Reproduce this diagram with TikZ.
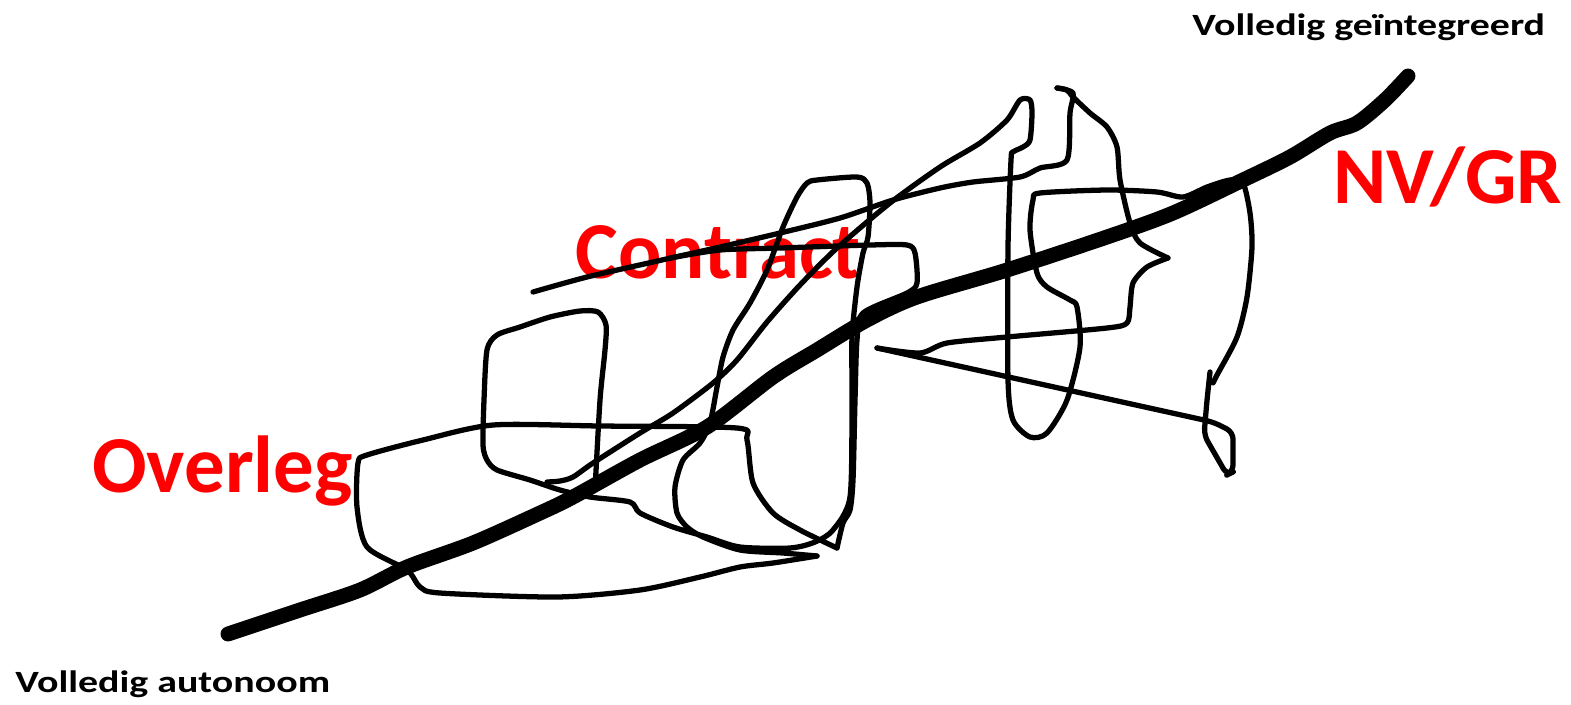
\documentclass[tikz,border=0pt]{standalone}
\usepackage{fontspec}
\setmainfont{Carlito}
\begin{document}
\begin{tikzpicture}[x=0.02cm, y=-0.02cm,
	scribble/.style={line width=3pt, line cap=round, line join=round},
	backbone/.style={line width=8.5pt, line cap=round, line join=round},
	pole/.style={font=\bfseries\fontsize{17.6}{20}\selectfont, inner sep=0pt, anchor=base west},
	zone/.style={font=\bfseries\fontsize{46}{50}\selectfont, text=red, inner sep=0pt, anchor=base west}]
	
	% Page frame (pixel units, y downwards)
	\useasboundingbox (0,0) rectangle (1571,704);
	
	% -----------------------------
	% Labels
	% -----------------------------
	\node[zone] (overleg) at (92,492) {Overleg};
	\node[zone] (contract) at (575,278) {Contract};
	\node[zone] (nvgr) at (1333,203) {NV/GR};
	\node[pole] (integr) at (1192,35) {\scalebox{1.29}[1]{Volledig geïntegreerd}};
	\node[pole] (auton) at (15,692) {\scalebox{1.29}[1]{Volledig autonoom}};
	
	% -----------------------------
	% Scribble: square, Overleg loop, Contract box
	% -----------------------------
	\draw[scribble] plot[smooth, tension=0.45] coordinates {
		(595,490) (600,400) (605,350) (606,325) (598,312) (580,311) (550,317)
		(520,327) (497,335) (487,350) (484,400) (483,445) (487,460) (497,470)
		(530,480) (560,490) (590,497) (630,502) (640,513) (673,527) (707,537)
		(740,547) (790,548) (815,542) (833,530) (850,497) (852,400) (852,337)
		(857,287) (863,253) (868,237) (870,203) (867,183) (857,177) (817,180)
		(807,183) (797,197) (783,227) (767,270) (750,303) (733,330) (723,357)
		(717,387) (710,423) (700,443) (683,460) (675,487) (677,513) (687,527)
		(703,537) (740,550) (783,553) (817,556)};
	\draw[scribble] plot[smooth, tension=0.45] coordinates {
		(817,556) (773,563) (740,567) (700,577) (640,590) (557,597) (440,593)
		(420,587) (407,570) (367,547) (357,507) (358,463) (367,455) (423,440)
		(493,425) (600,426) (737,428) (747,440) (753,483) (773,513) (800,530)
		(837,548)};
	\draw[scribble] plot[smooth, tension=0.45] coordinates {
		(837,548) (843,523) (850,510) (853,480) (855,400) (857,340) (863,313)
		(907,293) (917,283) (915,253) (907,245) (870,245) (780,248) (720,250)
		(670,258)};
	
	% -----------------------------
	% Scribble: right part
	% -----------------------------
	\draw[scribble] plot[smooth, tension=0.45] coordinates {
		(547,482) (560,481) (573,477) (593,463) (640,433) (673,413) (713,383)
		(737,360) (767,322) (800,285) (837,248) (890,203) (940,167) (980,143)
		(1007,120) (1020,100) (1030,100) (1032,113) (1030,140) (1023,147)
		(1013,152) (1011,160) (1008,247) (1008,380) (1013,420) (1030,437)
		(1047,433) (1067,400) (1080,347) (1077,307) (1070,300) (1047,287)
		(1037,273) (1030,230) (1033,200) (1040,193) (1107,190) (1157,192)
		(1183,197) (1207,187) (1230,180) (1243,183) (1250,213) (1252,247)
		(1247,297) (1237,337) (1217,375) (1213,383)};
	\draw[scribble, rounded corners=4] (1210,372) -- (1207,400) -- (1204,435)
		-- (1227,475) -- (1233,472) -- (1233,432) -- (1213,422) -- (877,348);
	\draw[scribble] plot[smooth, tension=0.45] coordinates {
		(877,348) (920,353) (947,343) (1007,337) (1107,328) (1127,323)
		(1130,307) (1133,283) (1147,267) (1168,258)};
	\draw[scribble] plot[smooth, tension=0.45] coordinates {
		(1168,258) (1140,243) (1130,223) (1120,180) (1117,147) (1107,127)
		(1090,113) (1073,97) (1067,90) (1057,88)};
	\draw[scribble] plot[smooth, tension=0.45] coordinates {
		(1057,88) (1073,93) (1070,113) (1067,160) (1040,168) (1020,177)
		(973,182) (940,188) (893,200) (840,218) (780,233) (720,247) (653,262)
		(587,277) (533,292)};
	
	% -----------------------------
	% Main axis
	% -----------------------------
	\draw[backbone] plot[smooth, tension=0.5] coordinates {
		(228,634) (300,610) (360,590) (407,567) (473,543) (540,513) (573,497)
		(640,460) (707,427) (773,377) (817,350) (867,320) (917,297) (1007,270)
		(1107,237) (1173,213) (1243,180) (1290,157) (1330,133) (1357,123)
		(1385,100) (1408,76)};
	
\end{tikzpicture}
\end{document}
